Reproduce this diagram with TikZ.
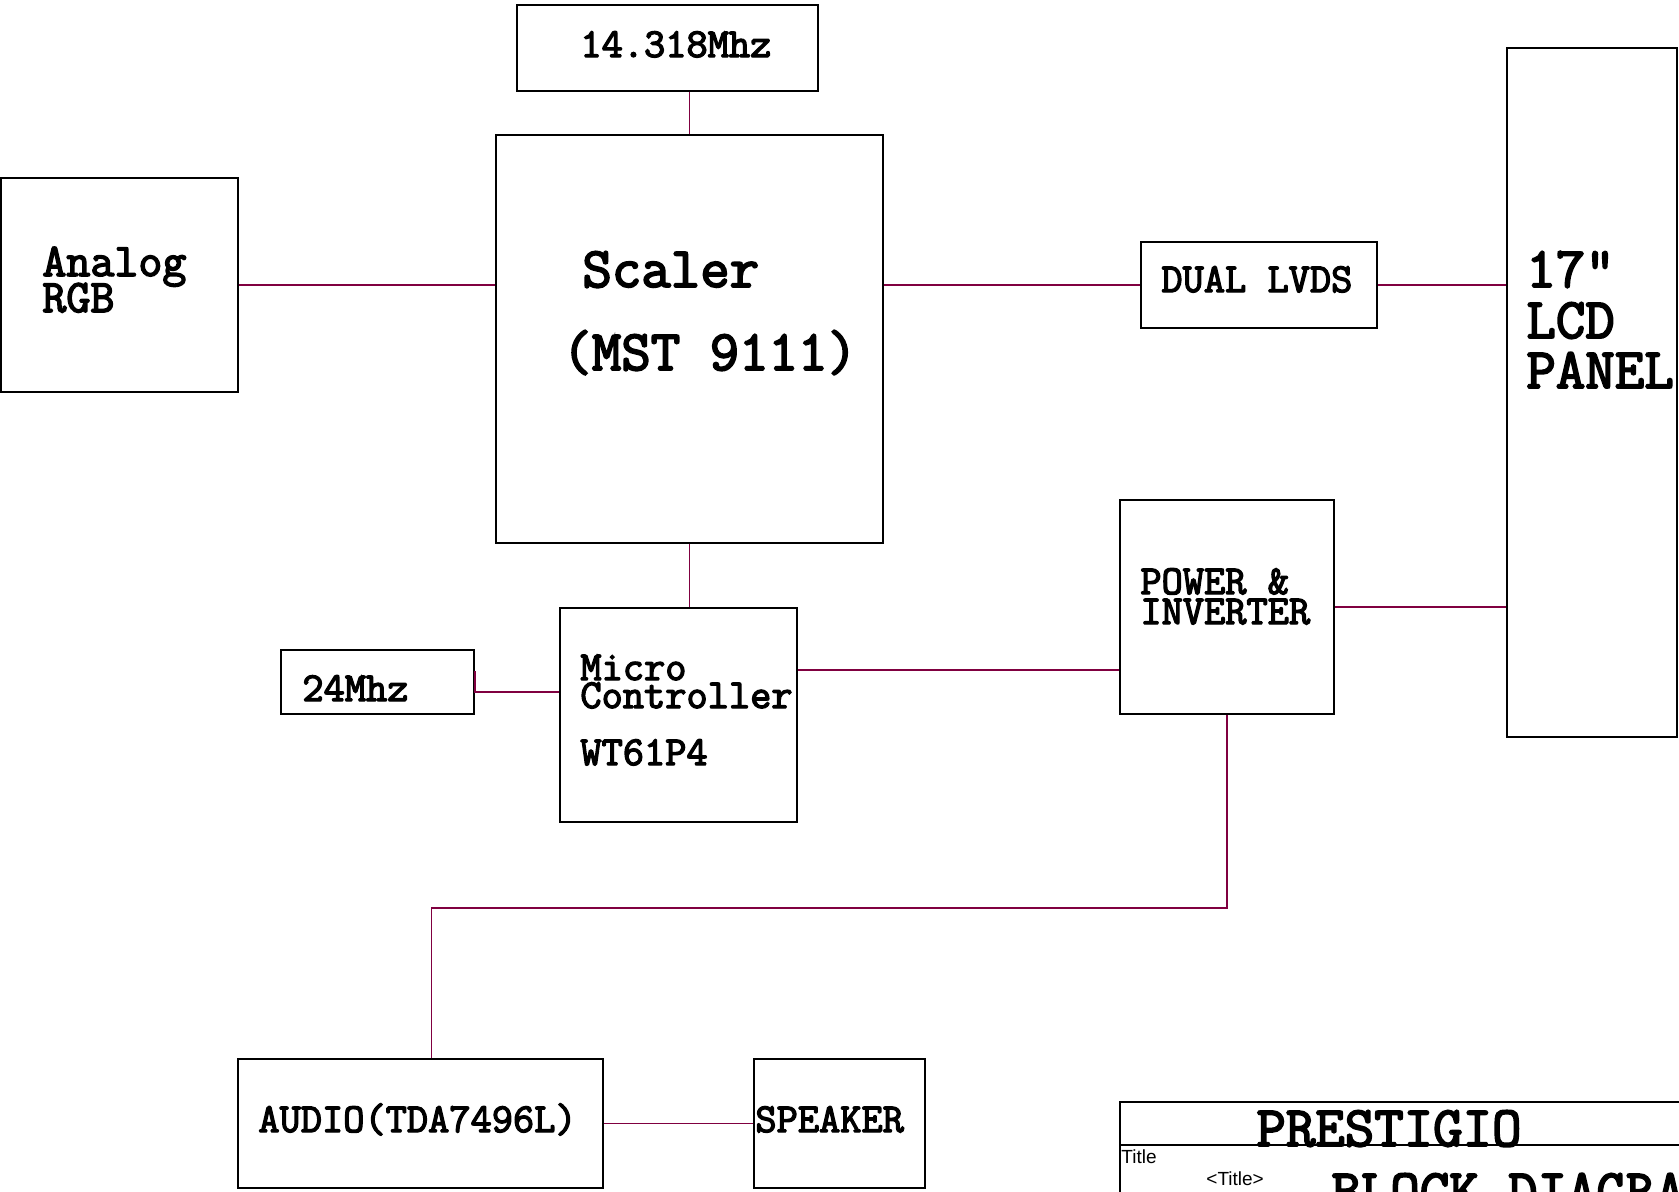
\documentclass[tikz,border=0pt]{standalone}
\usepackage{fontspec}
\setmainfont{Liberation Sans}
\newfontfamily\cour{Latin Modern Mono}[AutoFakeBold=3.2]
\usetikzlibrary{calc,fit}
\definecolor{wirecol}{RGB}{128,0,64}
\tikzset{
  blk/.style={draw=black, line width=1pt, rectangle, inner sep=0pt},
  wire/.style={draw=wirecol, line width=0.9pt},
  lbl/.style={anchor=base west, inner sep=0pt, font=\cour\bfseries\fontsize{20.6}{22}\selectfont},
  mid/.style={lbl, font=\cour\bfseries\fontsize{23.3}{25}\selectfont},
  big/.style={lbl, font=\cour\bfseries\fontsize{28.6}{30}\selectfont},
  small/.style={anchor=base west, inner sep=0pt, font=\fontsize{9.5}{11}\selectfont},
}
\begin{document}
\begin{tikzpicture}[x=0.5pt,y=-0.5pt]
\useasboundingbox (0,0) rectangle (1679,1191);
\clip (0,0) rectangle (1679,1191);
\fill[white] (0,0) rectangle (1679,1191);

% boxes
\node[blk, fit={(517,5) (818,91)}] (xt14) {};
\node[blk, fit={(496,135) (883,543)}] (scaler) {};
\node[blk, fit={(1,178) (238,392)}] (analog) {};
\node[blk, fit={(1141,242) (1377,328)}] (lvds) {};
\node[blk, fit={(1507,48) (1677,737)}] (lcd) {};
\node[blk, fit={(1120,500) (1334,714)}] (power) {};
\node[blk, fit={(281,650) (474,714)}] (xt24) {};
\node[blk, fit={(560,608) (797,822)}] (micro) {};
\node[blk, fit={(238,1059) (603,1188)}] (audio) {};
\node[blk, fit={(754,1059) (925,1188)}] (speaker) {};
\node[blk, fit={(1120,1102) (1720,1260)}] (tblock) {};
\coordinate (tline) at (1120,1145);
\draw[line width=1pt] (tline) -- (tline -| tblock.east);

% texts
\node[lbl] (t14) at (580,57) {14.318Mhz};
\node[big] (sc1) at (582,287) {Scaler};
\node[big] (sc2) at (562,370) {(MST 9111)};
\node[mid] (an1) at (42,276) {Analog};
\node[mid] (an2) at (42,312) {RGB};
\node[lbl] (lv) at (1161,292) {DUAL LVDS};
\node[big] (lc1) at (1526,287) {17"};
\node[big] (lc2) at (1526,338) {LCD};
\node[big] (lc3) at (1526,388) {PANEL};
\node[lbl] (pw1) at (1140,594) {POWER \&};
\node[lbl] (pw2) at (1140,624) {INVERTER};
\node[lbl] (mc1) at (580,680) {Micro};
\node[lbl] (mc2) at (580,708) {Controller};
\node[lbl] (mc3) at (580,765) {WT61P4};
\node[lbl] (t24) at (302,701) {24Mhz};
\node[lbl] (au) at (258,1132) {AUDIO(TDA7496L)};
\node[lbl] (sp) at (755,1132) {SPEAKER};
\node[big] (pr) at (1256,1146) {PRESTIGIO};
\node[small] (ti) at (1121,1163) {Title};
\node[small] (ti2) at (1206,1185) {<Title>};
\node[big] (bd) at (1331,1209) {BLOCK DIAGRAM};

% connectors
\draw[wire] (scaler.north) -- (scaler.north |- xt14.south);
\draw[wire] (analog.east) -- (analog.east -| scaler.west);
\draw[wire] (scaler.east |- lvds.west) -- (lvds.west);
\draw[wire] (lvds.east) -- (lvds.east -| lcd.west);
\draw[wire] (scaler.south) -- (scaler.south |- micro.north);
\coordinate (c24a) at ($(xt24.north east)+(0,22)$);
\coordinate (c24b) at ($(xt24.north east)+(0,43)$);
\draw[wire] (c24a) -- (c24b) -- (c24b -| micro.west);
\coordinate (cmp) at ($(micro.north east)+(0,63)$);
\draw[wire] (cmp) -- (cmp -| power.west);
\draw[wire] (power.east) -- (power.east -| lcd.west);
\coordinate (caud) at ($(audio.north)+(11,0)$);
\coordinate (cbend) at (0,908);
\draw[wire] (power.south) -- (power.south |- cbend) -- (caud |- cbend) -- (caud);
\draw[wire] (audio.east) -- (audio.east -| speaker.west);
\end{tikzpicture}
\end{document}
